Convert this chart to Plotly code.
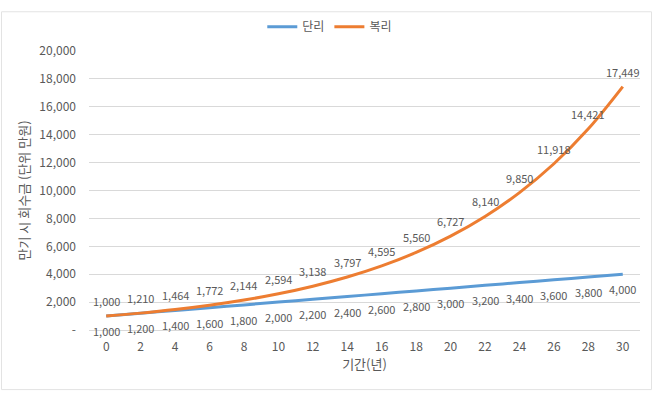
import plotly.graph_objects as go

years = [0, 2, 4, 6, 8, 10, 12, 14, 16, 18, 20, 22, 24, 26, 28, 30]
simple = [1000, 1200, 1400, 1600, 1800, 2000, 2200, 2400, 2600, 2800, 3000, 3200, 3400, 3600, 3800, 4000]
compound = [1000, 1210, 1464, 1772, 2144, 2594, 3138, 3797, 4595, 5560, 6727, 8140, 9850, 11918, 14421, 17449]
y_ticks = [0, 2000, 4000, 6000, 8000, 10000, 12000, 14000, 16000, 18000, 20000]
y_tick_text = ["-"] + [f"{v:,}" for v in y_ticks[1:]]

FONT = "Noto Sans CJK KR, Malgun Gothic, sans-serif"
GRAY = "#595959"
BLUE = "#5B9BD5"
ORANGE = "#ED7D31"

fig = go.Figure()
fig.add_trace(go.Scatter(x=years, y=simple, name="단리", mode="lines",
                         line=dict(color=BLUE, width=3, shape="spline")))
fig.add_trace(go.Scatter(x=years, y=compound, name="복리", mode="lines",
                         line=dict(color=ORANGE, width=3, shape="spline")))

annotations = []
for x, v in zip(years, simple):
    annotations.append(dict(x=x, y=v, text=f"{v:,}", showarrow=False, yshift=-15,
                            font=dict(family=FONT, size=11, color=GRAY)))
for x, v in zip(years, compound):
    annotations.append(dict(x=x, y=v, text=f"{v:,}", showarrow=False, yshift=15,
                            font=dict(family=FONT, size=11, color=GRAY)))

fig.update_layout(
    width=656, height=394,
    margin=dict(l=89, r=16, t=42, b=64),
    paper_bgcolor="white", plot_bgcolor="white",
    font=dict(family=FONT, size=12, color=GRAY),
    showlegend=True,
    legend=dict(orientation="h", x=0.437, xanchor="center", y=1.087, yanchor="middle",
                font=dict(family=FONT, size=12, color=GRAY), itemwidth=30,
                bgcolor="rgba(0,0,0,0)"),
    xaxis=dict(range=[-1, 31], tickmode="array", tickvals=years,
               ticktext=[str(y) for y in years], showgrid=False, zeroline=False,
               showline=True, linecolor="#D9D9D9", linewidth=1, ticks="",
               ticklabelstandoff=6,
               tickfont=dict(family=FONT, size=12, color=GRAY),
               title=dict(text="기간(년)", font=dict(family=FONT, size=13, color=GRAY), standoff=6)),
    yaxis=dict(range=[0, 20000], tickmode="array", tickvals=y_ticks, ticktext=y_tick_text,
               showgrid=True, gridcolor="#D9D9D9", gridwidth=1, zeroline=False,
               showline=False, ticks="", ticklabelstandoff=12,
               tickfont=dict(family=FONT, size=12, color=GRAY),
               title=dict(text="만기 시 회수금 (단위 만원)", font=dict(family=FONT, size=13, color=GRAY), standoff=6)),
    annotations=annotations,
    shapes=[dict(type="rect", xref="paper", yref="paper",
                 x0=(1.5 - 89) / 551, x1=(651.5 - 89) / 551,
                 y0=(330 - 391.5) / 288, y1=(330 - 1.5) / 288,
                 line=dict(color="#E3E3E3", width=1), layer="below")],
)

fig.write_html("out.html", post_script="document.body.style.margin='0';",
               config={"displayModeBar": False})
